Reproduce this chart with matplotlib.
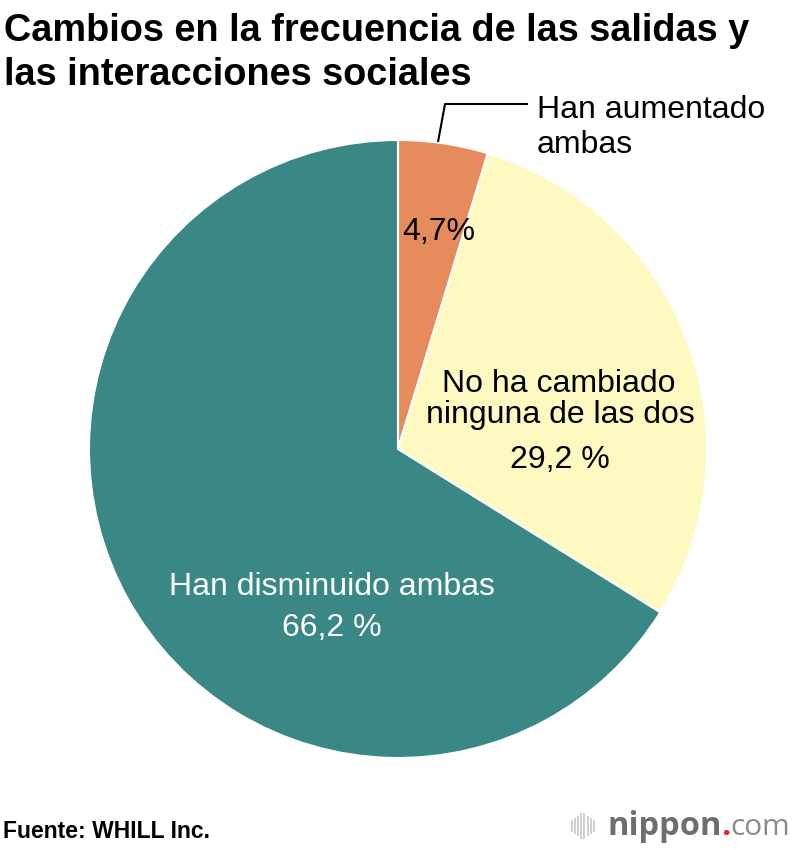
import matplotlib
matplotlib.use("Agg")
import matplotlib.pyplot as plt

plt.rcParams['font.family'] = ['Liberation Sans', 'DejaVu Sans']

labels = ["Han aumentado ambas", "No ha cambiado ninguna de las dos", "Han disminuido ambas"]
values = [4.7, 29.2, 66.2]
value_texts = ["4,7%", "29,2 %", "66,2 %"]
colors = ["#e58b5c", "#fef8c1", "#3a8886"]

W, H = 800, 850
fig = plt.figure(figsize=(8, 8.5), dpi=100)
ax = fig.add_axes([0, 0, 1, 1])
ax.set_xlim(0, W)
ax.set_ylim(0, H)
ax.set_aspect('equal')
ax.axis('off')

def Y(py):
    return H - py

cx, cy, r = 398, Y(449), 309
ax.pie(values, colors=colors, startangle=90, counterclock=False,
       center=(cx, cy), radius=r,
       wedgeprops=dict(edgecolor='white', linewidth=1.5))
ax.set_xlim(0, W)
ax.set_ylim(0, H)

FS = 23
# Labels
ax.text(439, Y(240), value_texts[0], ha='center', va='baseline', fontsize=FS, color='black')
ax.text(559, Y(392), "No ha cambiado", ha='center', va='baseline', fontsize=FS, color='black')
ax.text(560, Y(423), "ninguna de las dos", ha='center', va='baseline', fontsize=FS, color='black')
ax.text(560, Y(468), value_texts[1], ha='center', va='baseline', fontsize=FS, color='black')
ax.text(332, Y(595), labels[2], ha='center', va='baseline', fontsize=FS, color='white')
ax.text(332, Y(636), value_texts[2], ha='center', va='baseline', fontsize=FS, color='white')

# leader line
ax.plot([438, 445, 528], [Y(142), Y(104), Y(104)], color='black', lw=1.5, solid_capstyle='butt')
ax.text(537, Y(118), "Han aumentado", ha='left', va='baseline', fontsize=FS, color='black')
ax.text(537, Y(153), "ambas", ha='left', va='baseline', fontsize=FS, color='black')

# Title
fig.text(4 / W, 1 - 41 / H, "Cambios en la frecuencia de las salidas y", ha='left', va='baseline',
         fontsize=27.3, fontweight='bold')
fig.text(4 / W, 1 - 85 / H, "las interacciones sociales", ha='left', va='baseline',
         fontsize=27.3, fontweight='bold')

# Source
fig.text(3 / W, 1 - 838 / H, "Fuente: WHILL Inc.", ha='left', va='baseline', fontsize=16.5, fontweight='bold')

# Logo
bar_x = [572, 575, 578, 581, 584, 588, 591, 594]
bar_h = [10, 14, 18, 24, 24, 18, 14, 10]
for bx, bh in zip(bar_x, bar_h):
    ax.plot([bx, bx], [Y(826) - bh / 2, Y(826) + bh / 2], color='#cfcfcf', lw=1.4)
t1 = ax.text(607, Y(835), "nippon", ha='left', va='baseline', fontsize=23.5, fontweight='bold', color='#6e6e6e',
             family='Open Sans')
fig.canvas.draw()
bb = t1.get_window_extent()
x_end = ax.transData.inverted().transform((bb.x1, bb.y0))[0]
t2 = ax.text(x_end, Y(835), ".", ha='left', va='baseline', fontsize=23.5, color='#e8202a', family='Open Sans',
             fontweight='bold')
fig.canvas.draw()
bb = t2.get_window_extent()
x_end2 = ax.transData.inverted().transform((bb.x1, bb.y0))[0]
ax.text(x_end2, Y(835), "com", ha='left', va='baseline', fontsize=21.5, color='#8a8a8a', family='Open Sans')

fig.savefig("out.png", dpi=100)
